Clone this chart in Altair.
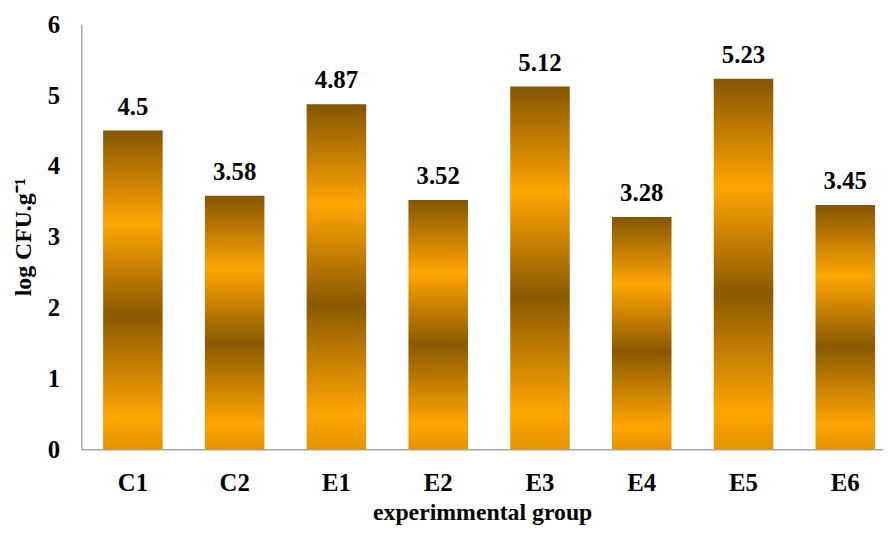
import altair as alt
import pandas as pd

groups = ["C1", "C2", "E1", "E2", "E3", "E4", "E5", "E6"]
values = [4.5, 3.58, 4.87, 3.52, 5.12, 3.28, 5.23, 3.45]

df = pd.DataFrame({"group": groups, "value": values})

FONT = "Liberation Serif, Times New Roman, serif"

gradient = alt.Gradient(
    gradient="linear",
    x1=0, x2=0, y1=0, y2=1,
    stops=[
        alt.GradientStop(offset=0.0, color="#845600"),
        alt.GradientStop(offset=0.29, color="#FFA500"),
        alt.GradientStop(offset=0.58, color="#8A5A00"),
        alt.GradientStop(offset=0.90, color="#FFA500"),
        alt.GradientStop(offset=1.0, color="#E39400"),
    ],
)

x = alt.X(
    "group:N",
    sort=groups,
    title="experimmental group",
    scale=alt.Scale(paddingInner=0.415, paddingOuter=0.146, align=0.733),
    axis=alt.Axis(
        labelAngle=0,
        ticks=False,
        labelPadding=22,
        titlePadding=5,
        domainColor="#A6A6A6",
        domainWidth=1.5,
    ),
)

y = alt.Y(
    "value:Q",
    title="log CFU.g⁻¹",
    scale=alt.Scale(domain=[0, 6], nice=False),
    axis=alt.Axis(
        values=[0, 1, 2, 3, 4, 5, 6],
        format="d",
        ticks=False,
        grid=False,
        labelPadding=22,
        titlePadding=12,
        domainColor="#A6A6A6",
        domainWidth=1.5,
    ),
)

bars = alt.Chart(df).mark_bar(fill=gradient).encode(x=x, y=y)

labels = alt.Chart(df).mark_text(
    font=FONT, fontSize=25, fontWeight="bold", color="black",
    baseline="alphabetic", dy=-16,
).encode(
    x=alt.X("group:N", sort=groups),
    y=alt.Y("value:Q"),
    text=alt.Text("value:Q", format="~g"),
)

chart = (
    alt.layer(bars, labels)
    .properties(
        width=809,
        height=429,
        autosize=alt.AutoSizeParams(type="none"),
        padding={"left": 74, "top": 14, "right": 0, "bottom": 78},
    )
    .configure_view(stroke=None)
    .configure_axis(
        labelFont=FONT, labelFontSize=25, labelFontWeight="bold", labelColor="black",
        titleFont=FONT, titleFontSize=24, titleFontWeight="bold", titleColor="black",
    )
)

chart.save("out.html", embed_options={"renderer": "svg", "actions": False})
